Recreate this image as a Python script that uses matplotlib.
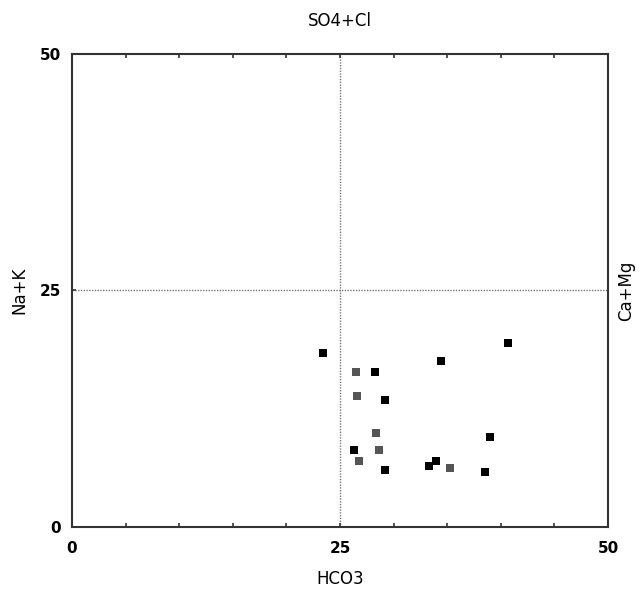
import matplotlib
matplotlib.use("Agg")
import matplotlib.pyplot as plt

plt.rcParams['font.family'] = ['Liberation Sans Narrow', 'DejaVu Sans']

# Series: black squares
black_x = [23.4, 40.7, 34.4, 28.3, 29.2, 39.0, 26.3, 33.95, 33.3, 29.2, 38.5]
black_y = [18.4, 19.5, 17.5, 16.4, 13.4, 9.5, 8.1, 7.0, 6.5, 6.0, 5.8]
# Series: gray squares
gray_x = [26.5, 26.6, 28.4, 28.6, 26.8, 35.3]
gray_y = [16.4, 13.9, 9.9, 8.1, 7.0, 6.2]

tick_vals = [0, 25, 50]
tick_labels = ["0", "25", "50"]

fig = plt.figure(figsize=(6.39, 5.92), dpi=100)
ax = fig.add_axes([0.1127, 0.1098, 0.8388, 0.799])

ax.set_xlim(0, 50)
ax.set_ylim(0, 50)

ax.axvline(25, color='#777777', linestyle=(0, (1, 1)), linewidth=1, zorder=1)
ax.axhline(25, color='#777777', linestyle=(0, (1, 1)), linewidth=1, zorder=1)

ax.scatter(gray_x, gray_y, marker='s', s=38, color='#555555', zorder=3, linewidths=0)
ax.scatter(black_x, black_y, marker='s', s=38, color='#000000', zorder=3, linewidths=0)

for s in ax.spines.values():
    s.set_color('#333333')
    s.set_linewidth(1.5)

ax.set_xticks(tick_vals)
ax.set_xticklabels(tick_labels, fontsize=11, fontweight='bold')
ax.set_yticks(tick_vals)
ax.set_yticklabels(tick_labels, fontsize=11, fontweight='bold')
ax.set_xticks(range(0, 51, 5), minor=True)
ax.tick_params(axis='x', which='both', direction='in', top=True, bottom=True,
               length=3, width=1.2, color='#333333', pad=10)
ax.tick_params(axis='y', which='both', direction='in', left=True, right=True,
               length=3, width=1.2, color='#333333', pad=8)

ax.set_xlabel("HCO3", fontsize=12, labelpad=10)
ax.set_ylabel("Na+K", fontsize=12, labelpad=8)
ax.set_title("SO4+Cl", fontsize=12, pad=20)
ax2 = ax.twinx()
ax2.set_ylim(0, 50)
ax2.set_yticks([])
ax2.set_ylabel("Ca+Mg", fontsize=12, labelpad=6.5)
for s in ax2.spines.values():
    s.set_visible(False)

fig.savefig("out.png", dpi=100, facecolor='white')
